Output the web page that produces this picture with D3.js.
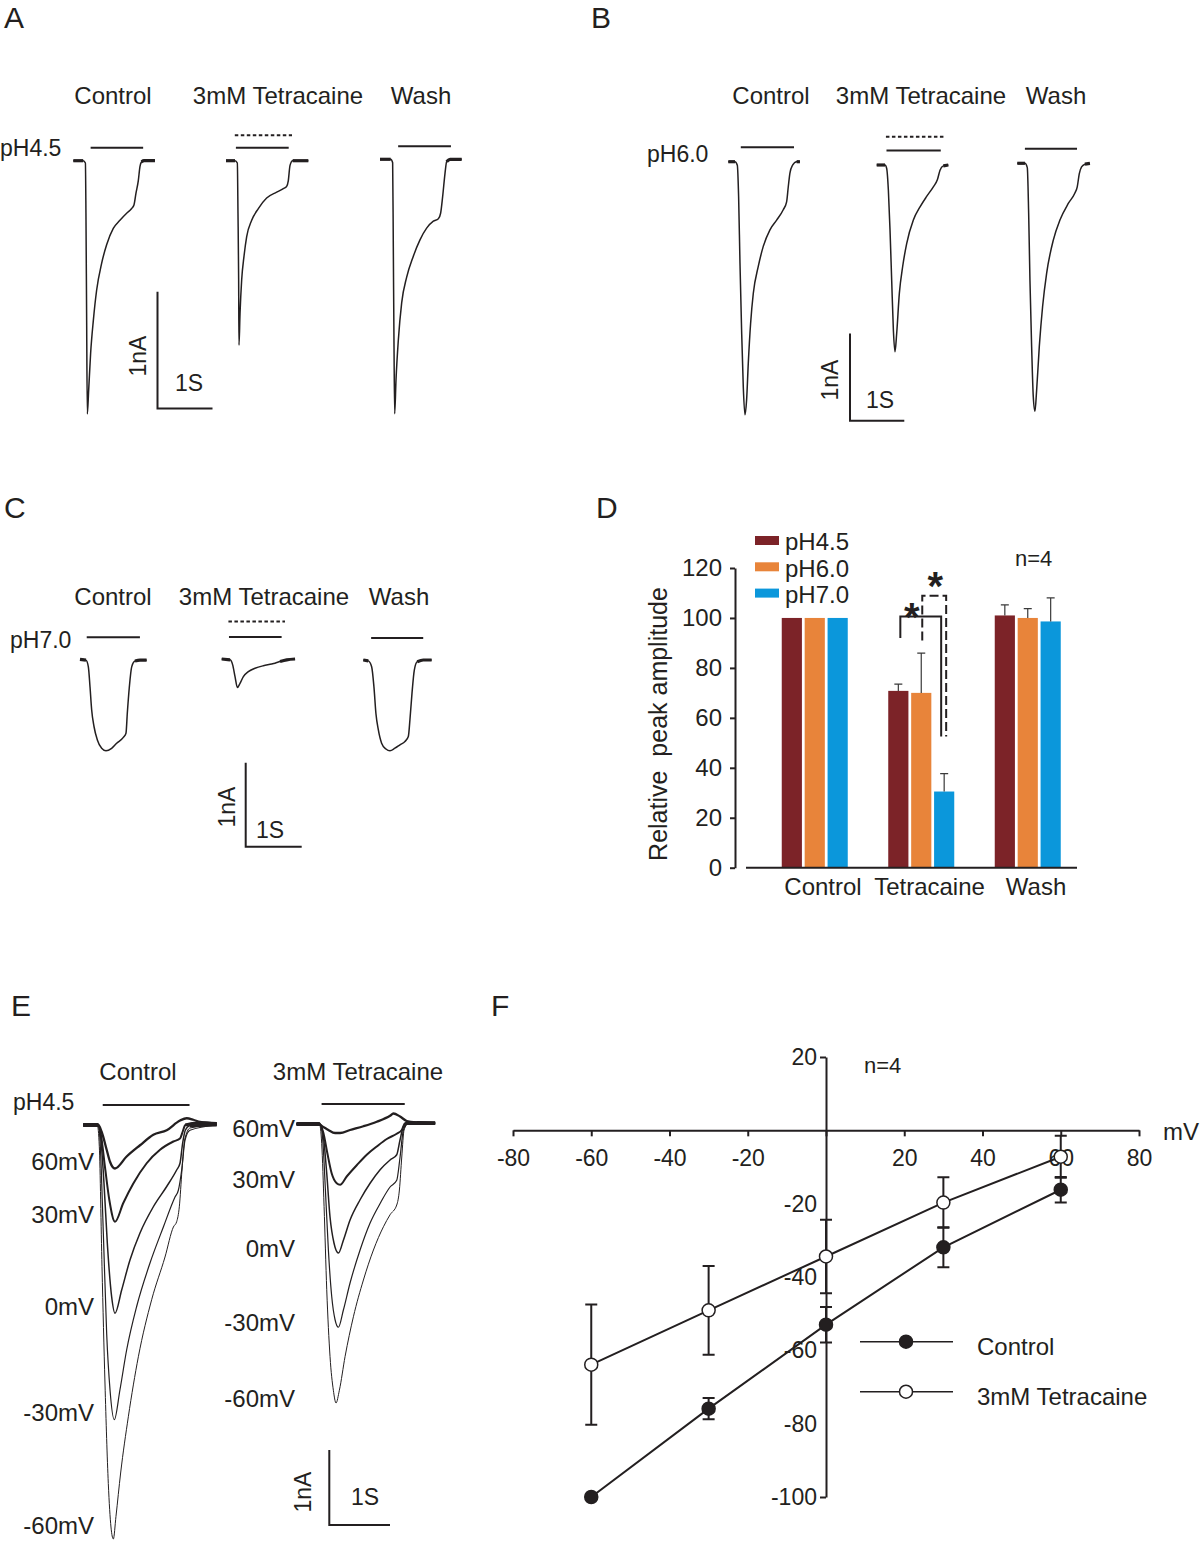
<!DOCTYPE html>
<html>
<head>
<meta charset="utf-8">
<script src="https://cdn.jsdelivr.net/npm/d3@7"></script>
<style>
body{margin:0;background:#fff}
svg{display:block}
text{font-family:"Liberation Sans",Arial,Helvetica,sans-serif;fill:#231f20}
</style>
</head>
<body>
<svg id="fig" width="1200" height="1541"></svg>
<script>
// ---------------- DATA ----------------
const conditions = ["Control", "3mM Tetracaine", "Wash"];
const phLabels = ["pH4.5", "pH6.0", "pH7.0"];

// Current traces: [time (s), current (nA)] relative to each trace start
const traceAControl = [[0,0],[0.18,0],[0.22,-0.02],[0.23,-0.45],[0.242,-1.31],[0.255,-2.17],[0.279,-1.97],[0.315,-1.65],[0.364,-1.37],[0.424,-1.11],[0.515,-0.88],[0.606,-0.72],[0.727,-0.58],[0.848,-0.51],[0.97,-0.45],[1.061,-0.41],[1.103,-0.38],[1.139,-0.28],[1.182,-0.17],[1.212,-0.05],[1.242,-0.01],[1.285,0],[1.485,0]];
const traceATetracaine = [[0,0],[0.164,0],[0.206,-0.02],[0.218,-0.45],[0.23,-1.02],[0.236,-1.58],[0.255,-1.31],[0.285,-1.02],[0.327,-0.82],[0.376,-0.65],[0.467,-0.51],[0.588,-0.41],[0.739,-0.32],[0.921,-0.27],[1.042,-0.24],[1.103,-0.22],[1.133,-0.17],[1.164,-0.04],[1.212,0],[1.497,0]];
const traceAWash = [[0,0],[0.194,0],[0.23,-0.03],[0.242,-0.75],[0.255,-1.61],[0.267,-2.18],[0.291,-1.89],[0.333,-1.55],[0.394,-1.23],[0.485,-1.01],[0.606,-0.83],[0.727,-0.69],[0.848,-0.59],[0.97,-0.53],[1.061,-0.51],[1.103,-0.46],[1.139,-0.32],[1.182,-0.12],[1.212,-0.02],[1.273,0],[1.485,0]];

const traceBControl = [[0,0],[0.123,0],[0.166,-0.04],[0.19,-0.4],[0.215,-1.16],[0.245,-1.93],[0.276,-2.58],[0.307,-2.9],[0.337,-2.73],[0.368,-2.31],[0.411,-1.85],[0.46,-1.51],[0.552,-1.2],[0.644,-0.97],[0.767,-0.78],[0.89,-0.67],[1.012,-0.55],[1.074,-0.46],[1.104,-0.29],[1.135,-0.13],[1.184,-0.04],[1.258,0],[1.319,0]];
const traceBTetracaine = [[0,0],[0.153,0],[0.184,-0.04],[0.215,-0.29],[0.245,-0.74],[0.276,-1.32],[0.307,-1.89],[0.337,-2.14],[0.368,-1.93],[0.417,-1.47],[0.479,-1.16],[0.552,-0.9],[0.675,-0.63],[0.798,-0.48],[0.92,-0.36],[1.043,-0.25],[1.117,-0.17],[1.166,-0.06],[1.227,-0.01],[1.319,0]];
const traceBWash = [[0,0],[0.141,0],[0.184,-0.05],[0.209,-0.57],[0.233,-1.34],[0.264,-2.1],[0.294,-2.67],[0.325,-2.84],[0.356,-2.6],[0.405,-2.1],[0.466,-1.64],[0.54,-1.26],[0.663,-0.88],[0.785,-0.65],[0.939,-0.46],[1.061,-0.34],[1.104,-0.27],[1.141,-0.12],[1.184,-0.04],[1.245,-0.01],[1.337,0]];

const traceCControl = [[0,0],[0.107,-0.01],[0.149,-0.09],[0.179,-0.33],[0.208,-0.6],[0.25,-0.8],[0.31,-0.96],[0.387,-1.06],[0.464,-1.09],[0.565,-1.06],[0.655,-1.0],[0.774,-0.93],[0.821,-0.88],[0.845,-0.64],[0.881,-0.33],[0.923,-0.09],[0.982,-0.02],[1.071,-0.01],[1.19,-0.01]];
const traceCTetracaine = [[0,0],[0.149,-0.01],[0.196,-0.07],[0.238,-0.21],[0.28,-0.34],[0.327,-0.29],[0.387,-0.21],[0.476,-0.15],[0.595,-0.11],[0.744,-0.08],[0.893,-0.06],[0.952,-0.05],[1.042,-0.03],[1.161,-0.01],[1.31,0]];
const traceCWash = [[0,0],[0.089,-0.01],[0.149,-0.08],[0.19,-0.32],[0.226,-0.64],[0.268,-0.83],[0.327,-0.99],[0.405,-1.06],[0.476,-1.08],[0.565,-1.05],[0.655,-1.01],[0.744,-0.97],[0.804,-0.91],[0.833,-0.71],[0.869,-0.4],[0.911,-0.12],[0.964,-0.02],[1.071,0],[1.22,0]];

const holdingVoltages = ["60mV", "30mV", "0mV", "-30mV", "-60mV"];
const traceEControl60 = [[0,0],[0.247,0],[0.302,-0.09],[0.385,-0.33],[0.44,-0.49],[0.522,-0.58],[0.714,-0.42],[0.934,-0.27],[1.154,-0.13],[1.374,-0.07],[1.593,0.06],[1.703,0.09],[1.813,0.07],[1.923,0.04],[2.198,0.02]];
const traceEControl30 = [[0,0],[0.247,0],[0.286,-0.11],[0.357,-0.56],[0.429,-1.0],[0.522,-1.29],[0.659,-1.04],[0.824,-0.78],[1.044,-0.51],[1.264,-0.33],[1.484,-0.22],[1.593,-0.18],[1.637,-0.09],[1.681,0],[1.923,0.03],[2.198,0.02]];
const traceEControl0 = [[0,0],[0.247,0],[0.286,-0.16],[0.341,-0.78],[0.396,-1.58],[0.467,-2.29],[0.522,-2.51],[0.632,-2.2],[0.769,-1.8],[0.934,-1.44],[1.154,-1.09],[1.374,-0.82],[1.538,-0.6],[1.593,-0.51],[1.637,-0.24],[1.681,-0.07],[1.758,-0.01],[2.198,0]];
const traceEControlM30 = [[0,0],[0.247,0],[0.275,-0.2],[0.33,-1.44],[0.385,-2.78],[0.44,-3.53],[0.511,-3.93],[0.604,-3.53],[0.714,-3.0],[0.879,-2.42],[1.099,-1.84],[1.319,-1.36],[1.511,-0.96],[1.566,-0.87],[1.621,-0.6],[1.676,-0.2],[1.758,-0.07],[2.198,0]];
const traceEControlM60 = [[0,0],[0.231,0],[0.264,-0.29],[0.308,-1.89],[0.357,-3.44],[0.412,-4.78],[0.456,-5.36],[0.495,-5.52],[0.538,-5.22],[0.615,-4.64],[0.742,-3.89],[0.907,-3.09],[1.126,-2.33],[1.346,-1.76],[1.484,-1.36],[1.538,-1.29],[1.582,-1.09],[1.626,-0.6],[1.67,-0.2],[1.758,-0.04],[2.198,0]];
const traceETetra60 = [[0,0],[0.357,0],[0.44,-0.04],[0.522,-0.08],[0.632,-0.12],[0.714,-0.12],[0.879,-0.08],[1.099,-0.03],[1.319,0.03],[1.538,0.11],[1.593,0.14],[1.703,0.1],[1.813,0.04],[1.978,0.02],[2.28,0.01]];
const traceETetra30 = [[0,0],[0.374,0],[0.44,-0.12],[0.505,-0.39],[0.577,-0.66],[0.659,-0.79],[0.714,-0.81],[0.824,-0.7],[0.989,-0.55],[1.154,-0.41],[1.319,-0.3],[1.484,-0.2],[1.648,-0.13],[1.731,-0.08],[1.786,0.01],[1.868,0.01],[2.28,0.01]];
const traceETetra0 = [[0,0],[0.385,0],[0.44,-0.17],[0.495,-0.66],[0.549,-1.24],[0.615,-1.59],[0.687,-1.72],[0.769,-1.55],[0.879,-1.28],[1.044,-1.01],[1.209,-0.79],[1.374,-0.61],[1.538,-0.48],[1.648,-0.41],[1.703,-0.21],[1.758,-0.04],[1.868,0.01],[2.28,0.01]];
const traceETetraM30 = [[0,0],[0.385,0],[0.429,-0.21],[0.473,-0.88],[0.522,-1.68],[0.577,-2.3],[0.632,-2.61],[0.687,-2.71],[0.769,-2.48],[0.879,-2.12],[1.044,-1.68],[1.209,-1.32],[1.374,-1.06],[1.538,-0.84],[1.648,-0.75],[1.703,-0.44],[1.758,-0.08],[1.841,0.01],[2.28,0.01]];
const traceETetraM60 = [[0,0],[0.374,0],[0.412,-0.26],[0.451,-1.1],[0.495,-2.21],[0.549,-3.1],[0.604,-3.55],[0.648,-3.72],[0.703,-3.55],[0.797,-3.1],[0.934,-2.57],[1.099,-2.08],[1.264,-1.68],[1.429,-1.37],[1.538,-1.21],[1.648,-1.08],[1.692,-0.88],[1.731,-0.44],[1.769,-0.08],[1.841,0.01],[2.28,0.01]];

// Agonist application bars (s, relative to trace start)
const stimA = [[0.315,1.27],[0.18,1.14],[0.33,1.29]];
const drugA = [null,[0.16,1.2],null];
const stimB = [[0.23,1.21],[0.18,1.18],[0.14,1.10]];
const drugB = [null,[0.17,1.24],null];
const stimC = [[0.12,1.07],[0.13,1.07],[0.14,1.07]];
const drugC = [null,[0.12,1.13],null];
const stimE = [[0.32,1.75],[0.41,1.78]];

// Panel D
const groupsD = ["Control", "Tetracaine", "Wash"];
const seriesD = ["pH4.5", "pH6.0", "pH7.0"];
const colorsD = ["#7C2328", "#E8843A", "#0B97DB"];
const ampPH45 = [100, 70.8, 101];
const ampPH60 = [100, 70.0, 100];
const ampPH70 = [100, 30.5, 98.6];
const semPH45 = [0, 2.7, 4.2];
const semPH60 = [0, 15.9, 3.7];
const semPH70 = [0, 7.2, 9.4];
const ticksD = [0, 20, 40, 60, 80, 100, 120];
const sigBrackets = [
  {group:"Tetracaine", from:"pH4.5", to:"pH7.0", top:100.6, leftEnd:92, rightEnd:52.5, dashed:false},
  {group:"Tetracaine", from:"pH6.0", to:"pH7.0", top:108.9, leftEnd:91, rightEnd:52.5, dashed:true}
];

// Panel F
const voltagesF = [-60, -30, 0, 30, 60];
const ivControl = [-100, -75.9, -53.0, -31.9, -16.2];
const ivControlSem = [0, 2.9, 4.85, 5.45, 3.5];
const ivTetracaine = [-63.9, -49.1, -34.4, -19.7, -7.2];
const ivTetracaineSem = [16.4, 12.1, 10.0, 6.9, 5.7];
const xTicksF = [-80, -60, -40, -20, 0, 20, 40, 60, 80];
const yTicksF = [20, -20, -40, -60, -80, -100];

// ---------------- DRAW ----------------
const INK = "#231f20";
const svg = d3.select("#fig");
svg.append("rect").attr("width", 1200).attr("height", 1541).attr("fill", "#fff");

function label(g, x, y, s, size, anchor, rot) {
  const t = g.append("text").attr("font-size", size).attr("text-anchor", anchor || "start").text(s);
  if (rot) t.attr("transform", `translate(${x},${y}) rotate(${rot})`);
  else t.attr("x", x).attr("y", y);
  return t;
}

// Panel letters
const letterPos = [[4,28],[591,28],[4,518],[596,518],[11,1016],[491,1016]];
["A","B","C","D","E","F"].forEach((L, i) => label(svg, letterPos[i][0], letterPos[i][1], L, 30));

function tracePanel(cfg) {
  const g = svg.append("g");
  cfg.items.forEach(it => {
    const [ox, oy] = it.origin;
    const xs = d3.scaleLinear().domain([0, 1]).range([ox, ox + cfg.pxPerS]);
    const ys = d3.scaleLinear().domain([0, -1]).range([oy, oy + cfg.pxPerNA]);
    const line = d3.line().x(d => xs(d[0])).y(d => ys(d[1])).curve(d3.curveMonotoneX);
    g.append("path").attr("d", line(it.data)).attr("fill", "none")
      .attr("stroke", INK).attr("stroke-width", it.width || 1.5).attr("stroke-linejoin", "round");
    // noisy flat baselines look thicker in the recordings
    const first = it.data.findIndex(d => Math.abs(d[1]) > 0.015);
    let last = it.data.length - 1;
    while (last > 0 && Math.abs(it.data[last][1]) <= 0.03) last--;
    const segs = [it.data.slice(0, first), it.data.slice(last + 1)];
    segs.forEach(s => { if (s.length > 1) g.append("path").attr("d", line(s)).attr("fill", "none")
      .attr("stroke", INK).attr("stroke-width", 3.2); });
    if (it.stim) g.append("line").attr("x1", xs(it.stim[0])).attr("x2", xs(it.stim[1]))
      .attr("y1", oy - cfg.stimOff).attr("y2", oy - cfg.stimOff).attr("stroke", INK).attr("stroke-width", 2);
    if (it.drug) g.append("line").attr("x1", xs(it.drug[0])).attr("x2", xs(it.drug[1]))
      .attr("y1", oy - cfg.drugOff).attr("y2", oy - cfg.drugOff).attr("stroke", INK)
      .attr("stroke-width", 2).attr("stroke-dasharray", "3.5,2.5");
  });
  // scale bar 1 nA / 1 s
  const [cx, cy] = cfg.corner;
  const sx = d3.scaleLinear().domain([0, 1]).range([cx, cx + cfg.pxPerS]);
  const sy = d3.scaleLinear().domain([0, 1]).range([cy, cy - cfg.pxPerNA]);
  g.append("path").attr("d", `M${cx},${sy(1)}V${cy}H${sx(1)}`).attr("fill", "none")
    .attr("stroke", INK).attr("stroke-width", 2);
  label(g, cfg.nALabel[0], cfg.nALabel[1], "1nA", 23, "middle", -90);
  label(g, cfg.sLabel[0], cfg.sLabel[1], "1S", 23);
  cfg.titles.forEach(t => label(g, t[0], t[1], t[2], 24, "middle"));
  label(g, cfg.ph[0], cfg.ph[1], cfg.ph[2], 23);
}

tracePanel({
  pxPerS: 55, pxPerNA: 116.7, stimOff: 13, drugOff: 25.5, corner: [157.5, 408.5],
  nALabel: [146, 356], sLabel: [175, 391],
  titles: [[113, 104, conditions[0]], [278, 104, conditions[1]], [421, 104, conditions[2]]],
  ph: [0, 156, phLabels[0]],
  items: [
    {data: traceAControl, origin: [73.3, 160.7], stim: stimA[0]},
    {data: traceATetracaine, origin: [226, 160.7], stim: stimA[1], drug: drugA[1]},
    {data: traceAWash, origin: [380, 159.3], stim: stimA[2]}
  ]
});

tracePanel({
  pxPerS: 54.3, pxPerNA: 87.3, stimOff: 14.5, drugOff: 28.3, corner: [850, 420.7],
  nALabel: [838, 380], sLabel: [866, 408],
  titles: [[771, 104, conditions[0]], [921, 104, conditions[1]], [1056, 104, conditions[2]]],
  ph: [647, 162, phLabels[1]],
  items: [
    {data: traceBControl, origin: [728.3, 161.7], stim: stimB[0]},
    {data: traceBTetracaine, origin: [876.7, 165], stim: stimB[1], drug: drugB[1]},
    {data: traceBWash, origin: [1017.3, 163.3], stim: stimB[2]}
  ]
});

tracePanel({
  pxPerS: 56, pxPerNA: 84, stimOff: 22, drugOff: 37.5, corner: [245.7, 846.7],
  nALabel: [235, 807], sLabel: [256, 838],
  titles: [[113, 605, conditions[0]], [264, 605, conditions[1]], [399, 605, conditions[2]]],
  ph: [10, 648, phLabels[2]],
  items: [
    {data: traceCControl, origin: [80, 659.3], stim: stimC[0]},
    {data: traceCTetracaine, origin: [221.7, 659], stim: stimC[1], drug: drugC[1]},
    {data: traceCWash, origin: [363.3, 660], stim: stimC[2]}
  ]
});

// Panel E
const eWidths = [2.3, 2.0, 1.5, 1.2, 1.0];
const eCtrl = [traceEControl60, traceEControl30, traceEControl0, traceEControlM30, traceEControlM60];
const eTet = [traceETetra60, traceETetra30, traceETetra0, traceETetraM30, traceETetraM60];
const eOriginC = [83.3, 1125], eOriginT = [296.7, 1124];
tracePanel({
  pxPerS: 60.7, pxPerNA: 75, stimOff: 20, drugOff: 0, corner: [329.3, 1525],
  nALabel: [311, 1492], sLabel: [351, 1505],
  titles: [[138, 1080, conditions[0]], [358, 1080, conditions[1]]],
  ph: [13, 1110, "pH4.5"],
  items: eCtrl.map((d, k) => ({data: d, origin: eOriginC, width: eWidths[k], stim: k === 0 ? stimE[0] : null}))
    .concat(eTet.map((d, k) => ({data: d, origin: eOriginT, width: eWidths[k], stim: k === 0 ? stimE[1] : null})))
});
// voltage labels next to the peaks
{
  const g = svg.append("g");
  const yC = d3.scaleLinear().domain([0, -1]).range([eOriginC[1], eOriginC[1] + 75]);
  const yT = d3.scaleLinear().domain([0, -1]).range([eOriginT[1], eOriginT[1] + 75]);
  holdingVoltages.forEach((v, k) => {
    const pc = d3.min(eCtrl[k], d => d[1]);
    const pt = d3.min(eTet[k], d => d[1]);
    label(g, 94, Math.min(yC(pc) - 7, 1525) + 8.5, v, 24, "end");
    label(g, 295, yT(pt) - 5 + 8.5, v, 24, "end");
  });
}

// ---------------- Panel D ----------------
{
  const g = svg.append("g");
  const yD = d3.scaleLinear().domain([0, 120]).range([867.7, 568]);
  const x0 = d3.scaleBand().domain(groupsD).range([761.75, 1081.25]);
  const x1 = d3.scaleBand().domain(seriesD).range([20, 86]).paddingInner(0.12);
  const amps = [ampPH45, ampPH60, ampPH70];
  const sems = [semPH45, semPH60, semPH70];
  const bars = [];
  groupsD.forEach((grp, gi) => seriesD.forEach((s, si) => bars.push({grp, s, si, v: amps[si][gi], e: sems[si][gi]})));
  g.selectAll("rect.bar").data(bars).join("rect").attr("class", "bar")
    .attr("x", d => x0(d.grp) + x1(d.s)).attr("width", x1.bandwidth())
    .attr("y", d => yD(d.v)).attr("height", d => yD(0) - yD(d.v))
    .attr("fill", d => colorsD[d.si]);
  // error bars
  const eb = bars.filter(d => d.e > 0);
  const cxb = d => x0(d.grp) + x1(d.s) + x1.bandwidth() / 2;
  g.selectAll("path.err").data(eb).join("path").attr("class", "err")
    .attr("d", d => `M${cxb(d)},${yD(d.v)}V${yD(d.v + d.e)}M${cxb(d) - 4},${yD(d.v + d.e)}H${cxb(d) + 4}`)
    .attr("stroke", "#3a3a3a").attr("stroke-width", 1.2).attr("fill", "none");
  // axes
  const ax = g.append("g").attr("transform", "translate(735,0)")
    .call(d3.axisLeft(yD).tickValues(ticksD).tickSize(5).tickSizeOuter(0).tickPadding(8).tickFormat(d => String(d)));
  ax.select(".domain").attr("stroke", INK).attr("stroke-width", 2);
  ax.selectAll(".tick line").attr("stroke", INK).attr("stroke-width", 2);
  ax.selectAll(".tick text").attr("font-size", 24).attr("fill", INK)
    .attr("font-family", "'Liberation Sans',Arial,sans-serif");
  g.append("line").attr("x1", 746).attr("x2", 1077).attr("y1", yD(0)).attr("y2", yD(0))
    .attr("stroke", INK).attr("stroke-width", 2);
  groupsD.forEach(grp => label(g, x0(grp) + x0.bandwidth() / 2 + 8, 895, grp, 24, "middle"));
  label(g, 667, 724, "Relative  peak amplitude", 25, "middle", -90).style("white-space", "pre");
  // legend
  seriesD.forEach((s, i) => {
    g.append("rect").attr("x", 755).attr("y", 536 + i * 26.3).attr("width", 24).attr("height", 9).attr("fill", colorsD[i]);
    label(g, 785, 550 + i * 26.6, s, 24);
  });
  label(g, 1015, 566, "n=4", 22);
  // significance brackets
  const cx = (grp, s) => x0(grp) + x1(s) + x1.bandwidth() / 2;
  sigBrackets.forEach((b, i) => {
    const xl = cx(b.group, b.from) + (b.dashed ? 1 : 2);
    const xr = cx(b.group, b.to) + (b.dashed ? 2 : -3);
    g.append("path").attr("d", `M${xl},${yD(b.leftEnd)}V${yD(b.top)}H${xr}V${yD(b.rightEnd)}`)
      .attr("fill", "none").attr("stroke", INK).attr("stroke-width", 2)
      .attr("stroke-dasharray", b.dashed ? "9,4" : null);
  });
  const s1x = (cx("Tetracaine", "pH4.5") + cx("Tetracaine", "pH6.0")) / 2 + 2;
  const s2x = (cx("Tetracaine", "pH6.0") + cx("Tetracaine", "pH7.0")) / 2 + 2.5;
  label(g, s1x, yD(sigBrackets[0].top) + 15, "*", 40, "middle").attr("font-weight", "bold");
  label(g, s2x, yD(sigBrackets[1].top) + 4, "*", 40, "middle").attr("font-weight", "bold");
}

// ---------------- Panel F ----------------
{
  const g = svg.append("g");
  const xF = d3.scaleLinear().domain([-80, 80]).range([513, 1139]);
  const yF = d3.scaleLinear().domain([-100, 20]).range([1497, 1057]);
  const xa = g.append("g").attr("transform", `translate(0,${yF(0)})`)
    .call(d3.axisBottom(xF).tickValues(xTicksF).tickSize(6).tickSizeOuter(0).tickPadding(13)
      .tickFormat(d => d === 0 ? "" : String(d)));
  const ya = g.append("g").attr("transform", `translate(${xF(0)},0)`)
    .call(d3.axisLeft(yF).tickValues(yTicksF).tickSize(6).tickSizeOuter(0).tickPadding(3)
      .tickFormat(d => String(d)));
  [xa, ya].forEach(a => {
    a.select(".domain").attr("stroke", INK).attr("stroke-width", 2);
    a.selectAll(".tick line").attr("stroke", INK).attr("stroke-width", 2);
    a.selectAll(".tick text").attr("font-size", 23).attr("fill", INK)
      .attr("font-family", "'Liberation Sans',Arial,sans-serif");
  });
  ya.selectAll(".tick line").attr("x2", d => (d === 20 || d === -100) ? -6 : 0);
  label(g, 1163, 1140, "mV", 24);
  label(g, 864, 1073, "n=4", 22);

  const lineF = d3.line().x((d, i) => xF(voltagesF[i])).y(d => yF(d));
  g.append("path").attr("d", lineF(ivControl)).attr("fill", "none").attr("stroke", INK).attr("stroke-width", 2);
  g.append("path").attr("d", lineF(ivTetracaine)).attr("fill", "none").attr("stroke", INK).attr("stroke-width", 2);
  const errs = [];
  voltagesF.forEach((v, i) => {
    if (ivControlSem[i] > 0) errs.push({v, m: ivControl[i], e: ivControlSem[i]});
    if (ivTetracaineSem[i] > 0) errs.push({v, m: ivTetracaine[i], e: ivTetracaineSem[i]});
  });
  g.selectAll("path.err").data(errs).join("path").attr("class", "err")
    .attr("d", d => { const x = xF(d.v), t = yF(d.m + d.e), b = yF(d.m - d.e);
      return `M${x},${t}V${b}M${x - 6},${t}H${x + 6}M${x - 6},${b}H${x + 6}`; })
    .attr("stroke", INK).attr("stroke-width", 2).attr("fill", "none");
  g.selectAll("circle.ctl").data(ivControl).join("circle").attr("class", "ctl")
    .attr("cx", (d, i) => xF(voltagesF[i])).attr("cy", d => yF(d)).attr("r", 6.5)
    .attr("fill", INK).attr("stroke", INK).attr("stroke-width", 1.5);
  g.selectAll("circle.tet").data(ivTetracaine).join("circle").attr("class", "tet")
    .attr("cx", (d, i) => xF(voltagesF[i])).attr("cy", d => yF(d)).attr("r", 6.5)
    .attr("fill", "#fff").attr("stroke", INK).attr("stroke-width", 1.5);
  // legend
  [["Control", INK, 1341.7], ["3mM Tetracaine", "#fff", 1391.7]].forEach(([name, fill, y]) => {
    g.append("line").attr("x1", 860).attr("x2", 953).attr("y1", y).attr("y2", y).attr("stroke", INK).attr("stroke-width", 1.5);
    g.append("circle").attr("cx", 906).attr("cy", y).attr("r", 6.5).attr("fill", fill).attr("stroke", INK).attr("stroke-width", 1.5);
    label(g, 977, y + 13, name, 24);
  });
}
</script>
</body>
</html>
